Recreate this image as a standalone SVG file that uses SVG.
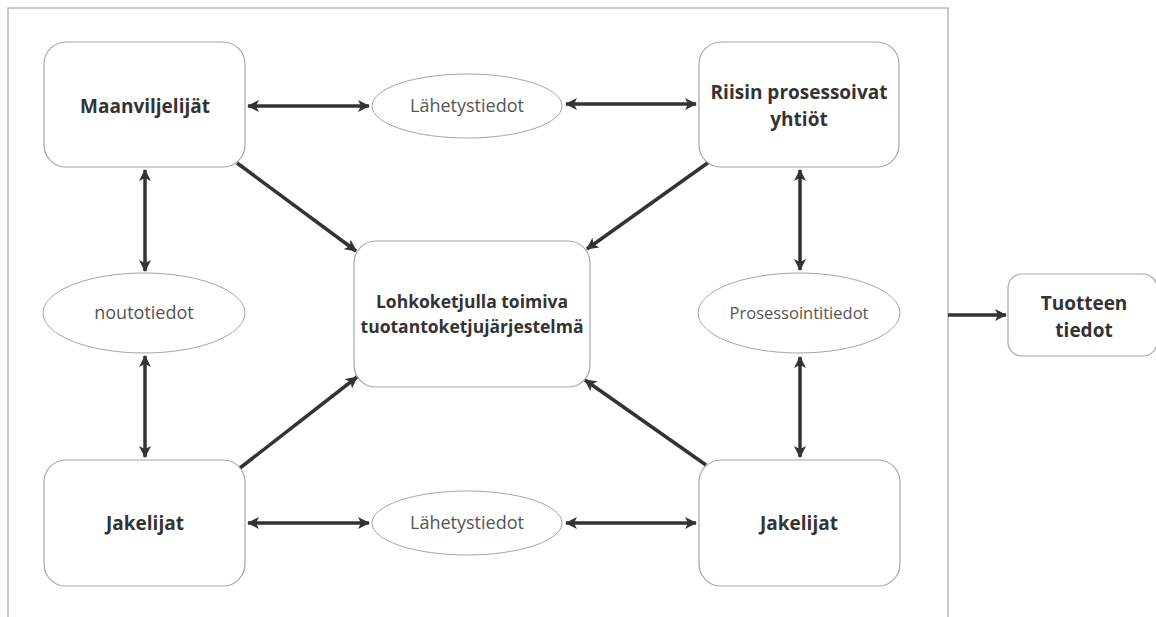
<svg xmlns="http://www.w3.org/2000/svg" width="1156" height="617" viewBox="0 0 1156 617">
<style>
.box{fill:#fff;stroke:#a6a6a6;stroke-width:1.2}
.ell{fill:#fff;stroke:#a6a6a6;stroke-width:1}
.t{font-family:"Open Sans","Noto Sans",sans-serif;font-weight:bold;font-size:19px;fill:#333;text-anchor:middle}
.l{font-family:"Open Sans","Noto Sans",sans-serif;font-size:18px;fill:#555;text-anchor:middle}
.c{stroke:#333;stroke-width:3.5;fill:none}
</style>
<defs>
<marker id="ah" viewBox="0 0 12 12" refX="11" refY="6" markerWidth="12" markerHeight="12" markerUnits="userSpaceOnUse" orient="auto-start-reverse">
<path d="M0,0 L12,6 L0,12 L3,6 z" fill="#333"/>
</marker>
</defs>
<rect x="8" y="8" width="940" height="640" fill="#fff" stroke="#a6a6a6" stroke-width="1.2"/>
<g id="connectors">
<line class="c" x1="248" y1="106" x2="369" y2="106" marker-start="url(#ah)" marker-end="url(#ah)"/>
<line class="c" x1="566" y1="104" x2="696" y2="104" marker-start="url(#ah)" marker-end="url(#ah)"/>
<line class="c" x1="145" y1="170" x2="145" y2="271" marker-start="url(#ah)" marker-end="url(#ah)"/>
<line class="c" x1="145" y1="356" x2="145" y2="457" marker-start="url(#ah)" marker-end="url(#ah)"/>
<line class="c" x1="800" y1="170" x2="800" y2="270" marker-start="url(#ah)" marker-end="url(#ah)"/>
<line class="c" x1="800" y1="357" x2="800" y2="457" marker-start="url(#ah)" marker-end="url(#ah)"/>
<line class="c" x1="248" y1="523" x2="369" y2="523" marker-start="url(#ah)" marker-end="url(#ah)"/>
<line class="c" x1="566" y1="523" x2="696" y2="523" marker-start="url(#ah)" marker-end="url(#ah)"/>
<line class="c" x1="237" y1="163" x2="356" y2="251" marker-end="url(#ah)"/>
<line class="c" x1="709" y1="162" x2="587" y2="249" marker-end="url(#ah)"/>
<line class="c" x1="240" y1="468" x2="357" y2="377" marker-end="url(#ah)"/>
<line class="c" x1="706" y1="465" x2="585" y2="380" marker-end="url(#ah)"/>
<line class="c" x1="948" y1="315" x2="1006" y2="315" marker-end="url(#ah)"/>
</g>
<g id="maanviljelijat">
<rect class="box" x="44" y="42" width="201" height="125" rx="22"/>
<text class="t" x="145" y="113">Maanviljelijät</text>
</g>
<g id="riisin">
<rect class="box" x="699" y="42" width="200" height="125" rx="22"/>
<text class="t" x="799" y="99">Riisin prosessoivat</text>
<text class="t" x="799" y="126">yhtiöt</text>
</g>
<g id="keskus">
<rect class="box" x="354" y="241" width="236" height="146" rx="22"/>
<text class="t" x="472" y="308" style="font-size:17.5px">Lohkoketjulla toimiva</text>
<text class="t" x="472" y="333" style="font-size:17.5px">tuotantoketjujärjestelmä</text>
</g>
<g id="jakelijat1">
<rect class="box" x="44" y="460" width="201" height="126" rx="22"/>
<text class="t" x="145" y="530">Jakelijat</text>
</g>
<g id="jakelijat2">
<rect class="box" x="699" y="460" width="201" height="126" rx="22"/>
<text class="t" x="799" y="530">Jakelijat</text>
</g>
<g id="lahetys1">
<ellipse class="ell" cx="467" cy="106" rx="95" ry="32"/>
<text class="l" x="467" y="112">Lähetystiedot</text>
</g>
<g id="lahetys2">
<ellipse class="ell" cx="467" cy="523" rx="95" ry="32"/>
<text class="l" x="467" y="529">Lähetystiedot</text>
</g>
<g id="nouto">
<ellipse class="ell" cx="144" cy="313" rx="101" ry="40"/>
<text class="l" x="144" y="319">noutotiedot</text>
</g>
<g id="prosessointi">
<ellipse class="ell" cx="799" cy="313" rx="101" ry="40"/>
<text class="l" x="799" y="319" style="font-size:16.5px">Prosessointitiedot</text>
</g>
<g id="tuotteen">
<rect class="box" x="1008" y="274" width="149" height="82" rx="14"/>
<text class="t" x="1084" y="310">Tuotteen</text>
<text class="t" x="1084" y="337">tiedot</text>
</g>
</svg>
